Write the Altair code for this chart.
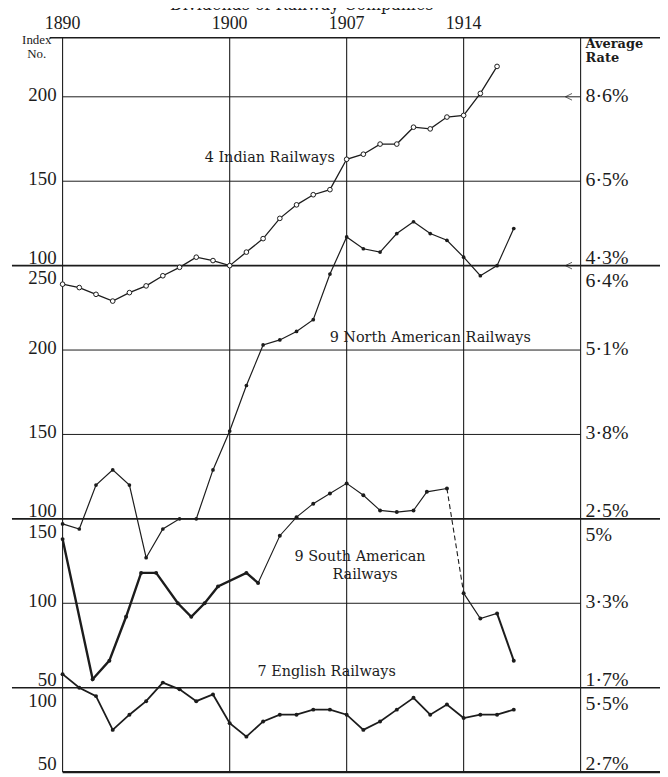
import altair as alt
import pandas as pd

# ---------------- data ----------------
indian_years = list(range(1890, 1917))
indian_index = [89, 87, 83, 79, 84, 88, 94, 99, 105, 103, 100, 108, 116, 128, 136,
                142, 145, 163, 166, 172, 172, 182, 181, 188, 189, 202, 218]

na_years = list(range(1890, 1918))
na_index = [97, 94, 120, 129, 120, 77, 94, 100, 100, 129, 152, 179, 203, 206, 211,
            218, 245, 267, 260, 258, 269, 276, 269, 265, 255, 244, 250, 272]

sa_years = [1890, 1891.8, 1892.8, 1893.8, 1894.7, 1895.6, 1896.9, 1897.7, 1898.5, 1899.3,
            1901, 1901.7, 1903, 1904, 1905, 1906, 1907, 1908, 1909, 1910, 1911, 1911.8,
            1913, 1914, 1915, 1916, 1917]
sa_index = [138, 55, 66, 92, 118, 118, 100, 92, 100, 110, 118, 112, 140, 151, 159,
            165, 171, 164, 155, 154, 155, 166, 168, 106, 91, 94, 66]

en_years = list(range(1890, 1918))
en_index = [108, 100, 95, 75, 84, 92, 103, 99, 92, 96, 79, 71, 80, 84, 84, 87, 87,
            84, 75, 80, 87, 94, 84, 90, 82, 84, 84, 87]

# each panel's index is shifted onto one shared vertical scale
panel_offset = {"indian": 200, "na": 50, "sa": 0, "en": -50}

grid_inner = [400, 350, 250, 200, 100]
grid_bound = [300, 150, 50]
vert_years = [1890, 1900, 1907, 1914, 1921]
top_years = [1890, 1900, 1907, 1914]

left_labels = ["200", "150", "100", "250", "200", "150", "100", "150", "100", "50", "100", "50"]
right_labels = ["8·6%", "6·5%", "4·3%", "6·4%", "5·1%", "3·8%", "2·5%", "5%", "3·3%", "1·7%", "5·5%", "2·7%"]
tick_pos = [400, 350, 300, 300, 250, 200, 150, 150, 100, 50, 50, 0]
tick_place = ["mid", "mid", "above", "below", "mid", "mid", "above", "below", "mid", "above", "below", "above"]

series_names = ["4 Indian Railways", "9 North American Railways", "9 South American", "Railways",
                "7 English Railways"]

# ---------------- layout / style ----------------
W, H = 522, 740
INK = "#1c1c1c"
NUMFONT = "Liberation Serif"
LBLFONT = "DejaVu Serif"

xscale = alt.Scale(domain=[1890, 1921], nice=False, zero=False)
yscale = alt.Scale(domain=[0, 435], nice=False, zero=False)


def X(f):
    return alt.X(f, type="quantitative", scale=xscale, axis=None)


def Y(f):
    return alt.Y(f, type="quantitative", scale=yscale, axis=None)


def XD(v):
    return alt.X(datum=v, type="quantitative", scale=xscale, axis=None)


def YD(v):
    return alt.Y(datum=v, type="quantitative", scale=yscale, axis=None)


layers = []

# horizontal grid lines
layers.append(alt.Chart(pd.DataFrame({"g": grid_inner})).mark_rule(color=INK, strokeWidth=1)
              .encode(y=Y("g"), x=alt.value(0), x2=alt.value(W)))
layers.append(alt.Chart(pd.DataFrame({"g": grid_bound})).mark_rule(color=INK, strokeWidth=1.6)
              .encode(y=Y("g"), x=alt.value(-51), x2=alt.value(605)))
layers.append(alt.Chart(pd.DataFrame({"g": [435]})).mark_rule(color=INK, strokeWidth=1.6)
              .encode(y=Y("g"), x=alt.value(-13), x2=alt.value(605)))
layers.append(alt.Chart(pd.DataFrame({"g": [0]})).mark_rule(color=INK, strokeWidth=2.2)
              .encode(y=Y("g"), x=alt.value(0), x2=alt.value(605)))
# vertical lines
layers.append(alt.Chart(pd.DataFrame({"year": vert_years})).mark_rule(color=INK, strokeWidth=1.1)
              .encode(x=X("year"), y=alt.value(0), y2=alt.value(H)))

# arrows on rate lines
layers.append(alt.Chart(pd.DataFrame({"g": [400, 300]})).mark_point(
    shape="M 1 -1 L -1 0 L 1 1", size=45, filled=False, color=INK, strokeWidth=1)
    .encode(y=Y("g"), x=alt.value(510)))


def sdf(years, vals, off):
    return pd.DataFrame({"year": years, "g": [v + off for v in vals]})


ind = sdf(indian_years, indian_index, panel_offset["indian"])
na = sdf(na_years, na_index, panel_offset["na"])
sa = sdf(sa_years, sa_index, panel_offset["sa"])
en = sdf(en_years, en_index, panel_offset["en"])

# Indian: thin line, open circles
layers.append(alt.Chart(ind).mark_line(color=INK, strokeWidth=1.3).encode(x=X("year"), y=Y("g")))
layers.append(alt.Chart(ind).mark_point(filled=True, fill="white", stroke=INK, size=22, strokeWidth=1,
                                         opacity=1).encode(x=X("year"), y=Y("g")))
# North American
layers.append(alt.Chart(na).mark_line(color=INK, strokeWidth=1.2).encode(x=X("year"), y=Y("g")))
layers.append(alt.Chart(na).mark_circle(color=INK, size=14, opacity=1).encode(x=X("year"), y=Y("g")))
# South American, segment styles
sa_segments = [(0, 11, 2.4, None), (11, 22, 1.1, None), (22, 23, 1.1, [5, 3]),
               (23, 25, 1.2, None), (25, 26, 2.0, None)]
for a, b, w, dash in sa_segments:
    part = sa.iloc[a:b + 1]
    if dash:
        m = alt.Chart(part).mark_line(color=INK, strokeWidth=w, strokeDash=dash)
    else:
        m = alt.Chart(part).mark_line(color=INK, strokeWidth=w)
    layers.append(m.encode(x=X("year"), y=Y("g")))
layers.append(alt.Chart(sa).mark_circle(color=INK, size=16, opacity=1).encode(x=X("year"), y=Y("g")))
# English
layers.append(alt.Chart(en).mark_line(color=INK, strokeWidth=1.8).encode(x=X("year"), y=Y("g")))
layers.append(alt.Chart(en).mark_circle(color=INK, size=16, opacity=1).encode(x=X("year"), y=Y("g")))

# tick labels left & right
place_dy_left = {"mid": 4, "above": -2, "below": 19}
place_dy_right = {"mid": 5, "above": -2, "below": 22}
for side, labels, xpos, align, size, dys in [
        ("L", left_labels, -6, "right", 19, place_dy_left),
        ("R", right_labels, 527, "left", 20, place_dy_right)]:
    df = pd.DataFrame({"label": labels, "g": tick_pos, "place": tick_place})
    for which in ["mid", "above", "below"]:
        sub = df[df.place == which]
        layers.append(alt.Chart(sub).mark_text(
            align=align, baseline="alphabetic", dy=dys[which], font=NUMFONT, fontSize=size, color=INK)
            .encode(x=alt.value(xpos), y=Y("g"), text="label:N"))

# top year labels
layers.append(alt.Chart(pd.DataFrame({"year": top_years})).mark_text(
    baseline="alphabetic", font=NUMFONT, fontSize=18, color=INK)
    .encode(x=X("year"), y=alt.value(-9), text="year:N"))

# header texts
def note(text, x, y, align="center", font=NUMFONT, size=16, weight="normal"):
    return alt.Chart(pd.DataFrame({"t": [text]})).mark_text(
        align=align, baseline="alphabetic", font=font, fontSize=size, fontWeight=weight, color=INK
    ).encode(x=x, y=y, text="t:N")


layers.append(note("Index", alt.value(-26), alt.value(6), size=13))
layers.append(note("No.", alt.value(-26), alt.value(20), size=13))
layers.append(note("Average", alt.value(527), alt.value(10), align="left", font=LBLFONT, size=13, weight="bold"))
layers.append(note("Rate", alt.value(527), alt.value(24), align="left", font=LBLFONT, size=13, weight="bold"))
layers.append(note("Dividends of Railway Companies", alt.value(241), alt.value(-28), font=LBLFONT, size=16))

# series labels
label_x = [1902.4, 1912.0, 1907.8, 1908.1, 1905.8]
label_g = [361.5, 254.5, 125.2, 114.6, 57.0]
for name, lx, lg in zip(series_names, label_x, label_g):
    layers.append(note(name, XD(lx), YD(lg), font=LBLFONT, size=14.5))

chart = alt.layer(*layers).properties(
    width=W, height=H,
    padding={"left": 55, "top": 27, "right": 80, "bottom": 2},
    autosize=alt.AutoSizeParams(type="none"),
    background="white",
).configure_view(stroke=None)

chart.save("out.html", embed_options={"renderer": "svg", "actions": False})
